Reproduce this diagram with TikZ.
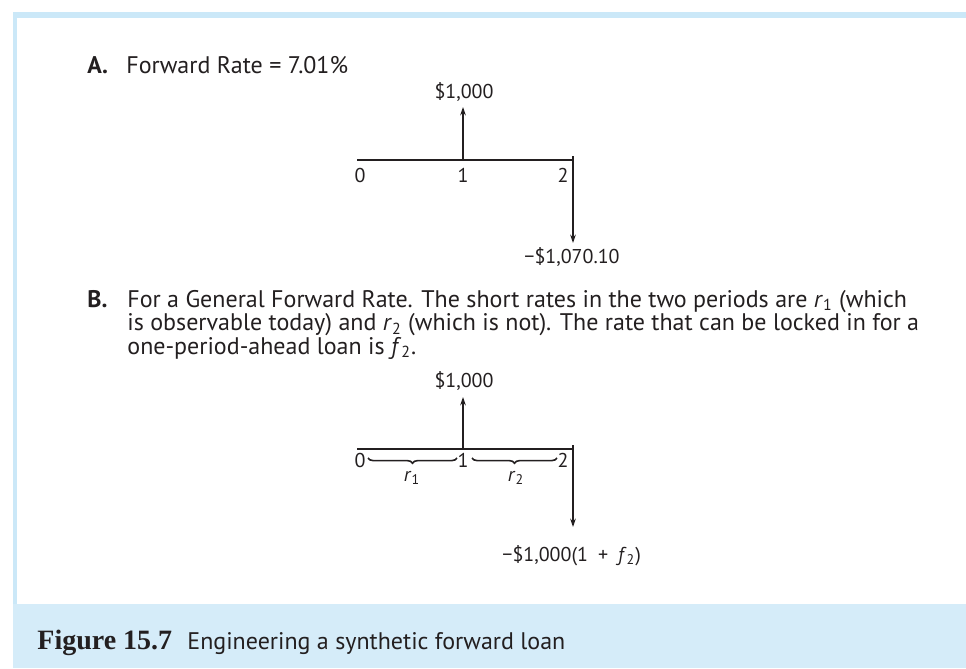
\documentclass[tikz,border=0pt]{standalone}
\usepackage{fontspec}
\setmainfont{PT Sans}
\newfontfamily\capfont{Liberation Serif}
\usetikzlibrary{arrows.meta,decorations.pathreplacing}
\definecolor{frameblue}{HTML}{CBE8F8}
\definecolor{bandblue}{HTML}{D5ECF9}
\definecolor{ink}{HTML}{231F20}
\newcommand{\mns}{\symbol{"2212}}
\begin{document}
\begin{tikzpicture}[x=0.5pt,y=-0.5pt,
  body/.style={anchor=base west,inner sep=0pt,text=ink,font=\fontsize{12}{14}\selectfont},
  lab/.style={inner sep=0pt,text=ink,font=\fontsize{10}{12}\selectfont},
  axisline/.style={draw=ink,line width=0.65pt},
  flow/.style={draw=ink,line width=0.6pt,-{Stealth[length=4.2pt,width=2.8pt]}},
  brc/.style={draw=ink,line width=0.8pt,decorate,decoration={brace,mirror,amplitude=2.6pt}}]
\useasboundingbox (0,0) rectangle (966,669);
% frame and caption band
\fill[frameblue] (12.7,12) rectangle (966,604);
\fill[white] (17.3,18) rectangle (966,604);
\fill[bandblue] (12.7,604) rectangle (966,668);

% ---------- Panel A ----------
\node[body] (Alab) at (87,74) {\textbf{A.}};
\node[body] (Atxt) at (126,74) {Forward Rate = 7.01\%};

\coordinate (a0) at (357,160);
\coordinate (a1) at (463,160);
\coordinate (a2) at (573,160);
\coordinate (a2top) at (573,156);
\coordinate (aup) at (463,107);
\coordinate (adown) at (573,243);
\draw[axisline] (a0) -- (a2);
\draw[flow] (a1) -- (aup);
\draw[flow] (a2top) -- (adown);
\node[lab,anchor=base] (aval1) at (464,98) {\$1,000};
\node[lab,anchor=base] (an0) at (360,182) {0};
\node[lab,anchor=base] (an1) at (463,182) {1};
\node[lab,anchor=base] (an2) at (563,182) {2};
\node[lab,anchor=base] (aval2) at (572,263) {\mns\$1,070.10};

% ---------- Panel B ----------
\node[body] (Blab) at (87,307) {\textbf{B.}};
\node[body] (Bl1) at (127,307) {For a General Forward Rate. The short rates in the two periods are \textit{r}\textsubscript{1} (which};
\node[body] (Bl2) at (127,330.5) {is observable today) and \textit{r}\textsubscript{2} (which is not). The rate that can be locked in for a};
\node[body] (Bl3) at (127,354) {one-period-ahead loan is \textit{f}\textsubscript{2}.};

\coordinate (b0) at (357,449);
\coordinate (b1) at (463,449);
\coordinate (b2) at (573,449);
\coordinate (b2top) at (573,445);
\coordinate (bup) at (463,397);
\coordinate (bdown) at (573,527);
\draw[axisline] (b0) -- (b2);
\draw[flow] (b1) -- (bup);
\draw[flow] (b2top) -- (bdown);
\node[lab,anchor=base] (bval1) at (464,387) {\$1,000};
\node[lab,anchor=base] (bn0) at (360,467) {0};
\node[lab,anchor=base] (bn1) at (463,467) {1};
\node[lab,anchor=base] (bn2) at (563,467) {2};
\coordinate (br1a) at (368,458);
\coordinate (br1b) at (457,458);
\coordinate (br2a) at (472,458);
\coordinate (br2b) at (557,458);
\draw[brc] (br1a) -- (br1b);
\draw[brc] (br2a) -- (br2b);
\node[lab,anchor=base] (r1) at (412,481) {\textit{r}\textsubscript{1}};
\node[lab,anchor=base] (r2) at (516,481) {\textit{r}\textsubscript{2}};
\node[lab,anchor=base west] (bval2) at (502,561) {\mns\$1,000(1\hspace{0.5em}+\hspace{0.5em}\textit{f}\textsubscript{2})};

% ---------- Caption ----------
\node[anchor=base west,inner sep=0pt,text=ink,font=\capfont\bfseries\fontsize{14}{16}\selectfont] (capnum) at (37,649) {Figure 15.7};
\node[body] (captxt) at (187,649) {Engineering a synthetic forward loan};
\end{tikzpicture}
\end{document}
